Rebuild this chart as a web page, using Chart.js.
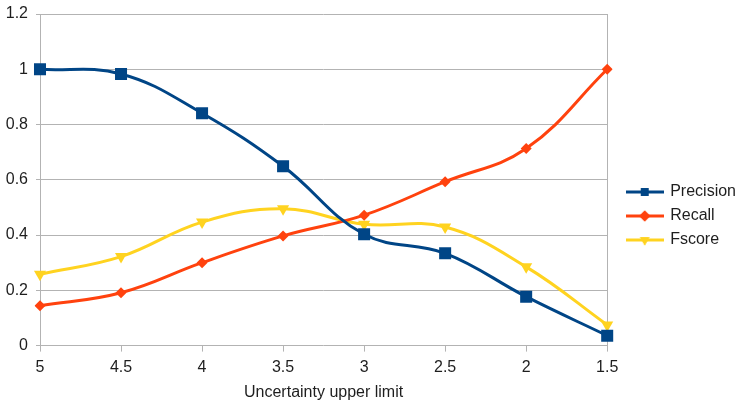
<!DOCTYPE html>
<html>
<head>
<meta charset="utf-8">
<script src="https://cdn.jsdelivr.net/npm/chart.js@4/dist/chart.umd.min.js"></script>
<style>
    body { margin: 0; background: #ffffff; }
    #wrap { width: 745px; height: 406px; }
</style>
</head>
<body>
<div id="wrap"><canvas id="chart_canvas" width="745" height="406"></canvas></div>
<script>
// data
const X_LABELS = ['5', '4.5', '4', '3.5', '3', '2.5', '2', '1.5'];
const PRECISION = [1.0, 0.983, 0.841, 0.649, 0.403, 0.334, 0.177, 0.036];
const RECALL = [0.144, 0.191, 0.30, 0.397, 0.472, 0.593, 0.713, 1.0];
const FSCORE = [0.258, 0.322, 0.447, 0.495, 0.439, 0.429, 0.285, 0.075];
const SERIES_NAMES = ['Precision', 'Recall', 'Fscore'];
const X_TITLE = 'Uncertainty upper limit';

const COLORS = ['#004586', '#ff420e', '#ffd320'];
const GRID = '#b3b3b3';
const TEXT = '#1e1e1e';
const FONT = 'Liberation Sans, Arial, sans-serif';

// small line+marker images for the legend
function legend_icon(color, style, rot) {
    let c = document.createElement('canvas');
    c.width = 38;
    c.height = 16;
    let ctx = c.getContext('2d');
    ctx.strokeStyle = color;
    ctx.lineWidth = 3;
    ctx.beginPath();
    ctx.moveTo(0, 8);
    ctx.lineTo(38, 8);
    ctx.stroke();
    ctx.fillStyle = color;
    Chart.helpers.drawPoint(ctx, {pointStyle: style, radius: 5.5, rotation: rot, borderWidth: 0}, 19, 8);
    ctx.fill();
    return c;
}

function make_dataset(i, data, style, radius, rot) {
    return {
        label: SERIES_NAMES[i],
        data: data,
        borderColor: COLORS[i],
        backgroundColor: COLORS[i],
        borderWidth: 3,
        pointStyle: style,
        pointRadius: radius,
        pointRotation: rot,
        pointBorderWidth: 0,
        tension: 0.4,
        legendIcon: legend_icon(COLORS[i], style, rot)
    };
}

// move the legend next to the plot, a bit lower than centred
const legend_shift = {
    id: 'legend_shift',
    afterLayout(chart) {
        let lg = chart.legend;
        let w = lg.right - lg.left;
        let h = lg.bottom - lg.top;
        lg.left = chart.chartArea.right + 12;
        lg.right = lg.left + w;
        lg.top = chart.chartArea.top + 162;
        lg.bottom = lg.top + h;
    }
};

let chart_data = {
    labels: X_LABELS,
    datasets: [
        make_dataset(0, PRECISION, 'rect', 8.5, 0),
        make_dataset(1, RECALL, 'rectRot', 5.5, 0),
        make_dataset(2, FSCORE, 'triangle', 7, 180)
    ]
};

let THE_CHART = new Chart(document.getElementById('chart_canvas'), {
    type: 'line',
    data: chart_data,
    plugins: [legend_shift],
    options: {
        responsive: false,
        animation: false,
        layout: {padding: {top: 0, right: 11, left: 6, bottom: 4}},
        plugins: {
            tooltip: {enabled: false},
            legend: {
                position: 'right',
                align: 'start',
                labels: {
                    usePointStyle: true,
                    pointStyleWidth: 35,
                    padding: 8,
                    color: TEXT,
                    font: {family: FONT, size: 16},
                    generateLabels: function (chart) {
                        return chart.data.datasets.map(function (ds, i) {
                            return {
                                text: ds.label,
                                pointStyle: ds.legendIcon,
                                fillStyle: ds.borderColor,
                                strokeStyle: ds.borderColor,
                                lineWidth: 0,
                                fontColor: TEXT,
                                datasetIndex: i,
                                hidden: false
                            };
                        });
                    }
                }
            }
        },
        scales: {
            x: {
                type: 'category',
                offset: false,
                grid: {
                    color: function (ctx) {
                        return (ctx.index === 0 || ctx.index === X_LABELS.length - 1) ? GRID : 'rgba(0,0,0,0)';
                    },
                    tickColor: GRID,
                    tickLength: 6,
                    lineWidth: 1
                },
                border: {display: false},
                ticks: {color: TEXT, font: {family: FONT, size: 16}, padding: 6, maxRotation: 0},
                title: {
                    display: true,
                    text: X_TITLE,
                    color: TEXT,
                    font: {family: FONT, size: 16},
                    padding: {top: 0, bottom: 0}
                }
            },
            y: {
                min: 0,
                max: 1.2,
                grid: {color: GRID, tickLength: 4, lineWidth: 1},
                border: {display: false},
                ticks: {
                    stepSize: 0.2,
                    color: TEXT,
                    font: {family: FONT, size: 16},
                    padding: 8,
                    callback: function (v) { return parseFloat(v.toFixed(1)).toString(); }
                },
                afterFit: function (scale) {
                    scale.width = 34;
                    scale.paddingTop = 14;
                }
            }
        }
    }
});
</script>
</body>
</html>
